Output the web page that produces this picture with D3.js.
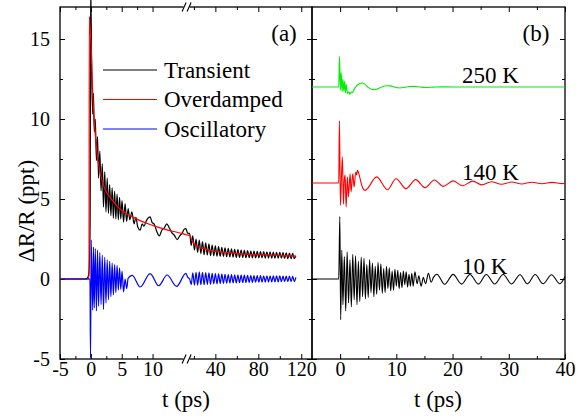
<!DOCTYPE html>
<html><head><meta charset="utf-8">
<script src="https://cdn.jsdelivr.net/npm/d3@7"></script>
<style>
html,body{margin:0;padding:0;background:#fff;}
svg{display:block;}
svg text{font-family:'Liberation Serif','Times New Roman',Times,serif;}
</style></head><body>
<svg id="chart" width="579" height="420"></svg>
<script>
// ---------------- DATA ----------------
// Panel (a): time in ps, signal in ppt
const transientShort = [[-5,0],[-1,0],[-0.6,0.05],[-0.4,0.2],[-0.25,0.8],[-0.12,3.5],[-0.03,18.5],[0.15,12.5],[0.3,10.3],[0.42,11.6],[0.55,9.2],[0.72,10.0],[0.9,7.4],[1.08,8.9],[1.25,6.3],[1.45,8.0],[1.65,5.5],[1.85,7.2],[2.05,4.5],[2.25,6.7],[2.45,4.2],[2.65,6.3],[2.85,4.1],[3.05,5.9],[3.25,3.95],[3.45,5.7],[3.65,3.8],[3.85,5.5],[4.05,3.75],[4.25,5.3],[4.45,3.7],[4.65,5.1],[4.85,3.75],[5.05,4.9],[5.3,3.55],[5.55,4.7],[5.8,3.6],[6.05,4.4],[6.3,3.7],[6.65,4.2],[7.0,3.45],[7.3,3.85],[7.6,3.25],[8.0,3.05],[8.3,3.45],[8.6,3.3],[9.0,3.65],[9.6,3.88],[9.9,3.55],[10.3,3.4],[10.7,2.95],[11.1,2.7],[11.5,3.05],[11.9,3.2],[12.3,3.45],[12.7,3.2],[13.1,2.9],[13.5,2.75],[14.0,2.46],[14.4,2.7],[14.8,2.85],[15.1,3.1],[15.4,3.15],[15.7,2.85]];
const transientLong = [[16,2.85],[17.5,2.1],[19,2.7],[20.5,1.8],[22,2.5],[23.5,1.66],[25,2.43],[26.5,1.59],[28,2.34],[29.5,1.52],[31,2.26],[32.5,1.5],[34,2.19],[35.5,1.46],[37,2.12],[38.5,1.45],[40,2.07],[41.5,1.42],[43,2.02],[44.5,1.41],[46,1.98],[47.5,1.4],[49,1.95],[50.5,1.39],[52,1.92],[53.5,1.38],[55,1.89],[56.5,1.37],[58,1.86],[59.5,1.35],[61,1.83],[62.5,1.35],[64,1.81],[65.5,1.34],[67,1.79],[68.5,1.33],[70,1.77],[71.5,1.33],[73,1.75],[74.5,1.32],[76,1.75],[77.5,1.32],[79,1.73],[80.5,1.32],[82,1.72],[83.5,1.32],[85,1.71],[86.5,1.31],[88,1.7],[89.5,1.31],[91,1.69],[92.5,1.31],[94,1.68],[95.5,1.3],[97,1.67],[98.5,1.3],[100,1.67],[101.5,1.3],[103,1.65],[104.5,1.28],[106,1.63],[107.5,1.27],[109,1.62],[110.5,1.27],[112,1.6],[113.5,1.27],[115,1.45]];
const overdampedShort = [[-5,0],[-0.4,0],[-0.3,0.3],[-0.25,16.4],[-0.1,15.6],[0.07,14.3],[0.3,11.6],[0.62,9.5],[1.0,7.85],[1.53,6.6],[2.34,5.56],[3.43,4.94],[4.5,4.45],[5.5,4.15],[6.67,3.9],[8.0,3.65],[9.37,3.44],[10.7,3.26],[12.07,3.1],[13.4,2.97],[14.77,2.85],[15.6,2.75]];
const overdampedLong = [[16,2.72],[18,2.45],[20,2.21],[23,2.05],[26,1.96],[32,1.84],[38,1.75],[46,1.68],[54,1.63],[62,1.58],[70,1.54],[85,1.51],[100,1.48],[115,1.43]];
const oscillatoryShort = [[-5,0],[-0.15,0],[-0.05,-4.95],[0.05,2.45],[0.3,-1.95],[0.42,2.0],[0.55,-1.8],[0.72,1.9],[0.9,-2.0],[1.08,1.8],[1.25,-1.7],[1.45,1.65],[1.65,-1.6],[1.85,1.5],[2.05,-1.9],[2.25,1.35],[2.45,-1.5],[2.65,1.2],[2.85,-1.3],[3.05,1.1],[3.25,-1.1],[3.45,1.0],[3.65,-1.0],[3.85,0.9],[4.05,-0.85],[4.25,0.85],[4.45,-0.7],[4.65,0.7],[4.85,-0.65],[5.05,0.5],[5.3,-0.8],[5.55,0.0],[5.8,-0.6],[6.05,0.05],[6.7,0.23],[8.0,-0.5],[9.6,0.34],[11.0,-0.42],[12.35,0.25],[13.9,-0.46],[15.4,0.35],[15.7,0.1]];
const oscillatoryLong = [[16,0.0],[17.5,-0.35],[19,0.38],[20.5,-0.38],[22,0.42],[23.5,-0.38],[25,0.44],[26.5,-0.36],[28,0.42],[29.5,-0.36],[31,0.4],[32.5,-0.34],[34,0.38],[35.5,-0.33],[37,0.36],[38.5,-0.3],[40,0.34],[41.5,-0.3],[43,0.32],[44.5,-0.28],[46,0.3],[47.5,-0.27],[49,0.29],[50.5,-0.26],[52,0.28],[53.5,-0.25],[55,0.27],[56.5,-0.24],[58,0.26],[59.5,-0.24],[61,0.25],[62.5,-0.23],[64,0.24],[65.5,-0.22],[67,0.24],[68.5,-0.22],[70,0.23],[71.5,-0.21],[73,0.22],[74.5,-0.21],[76,0.22],[77.5,-0.2],[79,0.21],[80.5,-0.2],[82,0.21],[83.5,-0.19],[85,0.2],[86.5,-0.19],[88,0.2],[89.5,-0.19],[91,0.2],[92.5,-0.18],[94,0.19],[95.5,-0.18],[97,0.19],[98.5,-0.18],[100,0.19],[101.5,-0.17],[103,0.18],[104.5,-0.17],[106,0.18],[107.5,-0.17],[109,0.18],[110.5,-0.17],[112,0.17],[113.5,-0.16],[115,0.1]];

// Panel (b): oscillatory part at three temperatures, relative to each trace's offset
const temps = ["250 K", "140 K", "10 K"];
const offsets = [12, 6, 0];
const osc250K = [[-5,0],[-0.25,0],[-0.1,1.9],[0.05,-0.2],[0.2,0.9],[0.35,-0.3],[0.5,0.5],[0.65,-0.25],[0.8,0.35],[0.95,-0.35],[1.1,0.15],[1.3,-0.4],[1.55,-0.3],[1.75,-0.45],[2.0,-0.3],[2.2,-0.35],[2.5,-0.15],[2.9,0.05],[3.4,0.2],[3.9,0.25],[4.4,0.18],[5.0,-0.02],[5.6,-0.14],[6.2,-0.17],[6.8,-0.1],[7.5,0.02],[8.3,0.08],[9.0,0.07],[9.8,-0.02],[10.6,-0.06],[11.4,-0.03],[12.3,0.03],[13.2,0.04],[14.2,0.0],[15.2,-0.03],[16.5,-0.01],[18,0.01],[20,0],[40,0]];
const osc140K = [[-5,0],[-0.25,0],[-0.12,3.88],[0.06,-1.4],[0.25,0.5],[0.41,1.63],[0.59,-1.33],[0.75,0.2],[0.89,0.5],[1.07,-1.5],[1.3,0.38],[1.48,-0.87],[1.78,0.58],[1.95,-0.56],[2.25,0.58],[2.49,-0.25],[2.78,0.69],[2.95,0.5],[3.08,0.79],[3.43,0.45],[3.9,-0.2],[4.44,-0.46],[6.51,0.38],[8.41,-0.42],[9.95,0.27],[11.72,-0.35],[13.44,0.21],[15.1,-0.29],[16.76,0.19],[18.35,-0.21],[20.1,0.13],[21.8,-0.17],[23.6,0.12],[25.2,-0.12],[26.9,0.08],[28.7,-0.08],[30.5,0.06],[32.3,-0.06],[34.1,0.05],[35.9,-0.05],[37.7,0.04],[39.5,-0.04],[40,0]];
const osc10K = [[-5,0],[-0.25,0],[-0.05,3.9],[0.1,-2.55],[0.3,1.8],[0.5,-1.6],[0.75,1.4],[1.0,-2.0],[1.25,1.7],[1.5,-1.5],[1.75,1.2],[2.0,-1.75],[2.25,1.55],[2.5,-1.3],[2.75,1.45],[3.0,-1.6],[3.25,1.1],[3.5,-1.4],[3.75,1.35],[4.0,-1.1],[4.25,1.3],[4.5,-1.25],[4.75,0.9],[5.0,-1.15],[5.25,1.2],[5.5,-0.85],[5.75,1.0],[6.0,-1.1],[6.25,0.8],[6.5,-0.95],[6.75,1.05],[7.0,-0.7],[7.25,0.95],[7.5,-0.9],[7.75,0.65],[8.0,-0.85],[8.25,0.8],[8.5,-0.6],[8.75,0.7],[9.0,-0.75],[9.25,0.5],[9.5,-0.7],[9.75,0.6],[10.0,-0.45],[10.25,0.55],[10.5,-0.6],[10.75,0.4],[11.0,-0.55],[11.25,0.5],[11.5,-0.35],[11.75,0.45],[12.0,-0.5],[12.25,0.3],[12.5,-0.45],[12.75,0.35],[13.0,-0.45],[13.3,0.45],[13.7,-0.3],[14.0,0.2],[14.4,-0.45],[14.8,0.1],[15.2,-0.3],[15.7,0.35],[16.2,-0.2],[16.6,0.1],[17.2,0.3],[18.6,-0.33],[20.1,0.29],[21.6,-0.32],[23.1,0.28],[24.6,-0.32],[26.0,0.28],[27.5,-0.31],[29.0,0.28],[30.5,-0.31],[32.0,0.27],[33.3,-0.3],[34.7,0.28],[36.1,-0.3],[37.6,0.27],[39.1,-0.3],[40,0.15]];

// Ticks and labels
const yMajor = [-5, 0, 5, 10, 15];
const yMinor = [-2.5, 2.5, 7.5, 12.5];
const xShortMajor = [-5, 0, 5, 10];
const xShortMinor = [-2.5, 2.5, 7.5];
const xLongMajor = [40, 80, 120];
const xLongMinor = [20, 60, 100];
const xBMajor = [0, 10, 20, 30, 40];
const xBMinor = [5, 15, 25, 35];
const legendNames = ["Transient", "Overdamped", "Oscillatory"];
const colorsA = ["#000000", "#ff0000", "#0000ff"];
const colorsB = ["#00ee00", "#ff0000", "#000000"];

// ---------------- DRAWING ----------------
const FONT = "'Liberation Serif','Times New Roman',Times,serif";
const svg = d3.select("#chart").attr("font-family", FONT);

const y = d3.scaleLinear().domain([-5, 17]).range([359, 7]);
const xA1 = d3.scaleLinear().domain([-5, 16]).range([60, 189.6]);
const xA2 = d3.scaleLinear().domain([16, 130]).range([189.6, 312]);
const xa = t => (t <= 16 ? xA1(t) : xA2(t));
const xB = d3.scaleLinear().domain([-5, 40]).range([312, 565]);

const yTop = y.range()[1], yBot = y.range()[0];

// frames
svg.append("rect").attr("x", xA1(-5)).attr("y", yTop).attr("width", xA2(130) - xA1(-5)).attr("height", yBot - yTop)
  .attr("fill", "none").attr("stroke", "#000").attr("stroke-width", 1.3);
svg.append("rect").attr("x", xB(-5)).attr("y", yTop).attr("width", xB(40) - xB(-5)).attr("height", yBot - yTop)
  .attr("fill", "none").attr("stroke", "#000").attr("stroke-width", 1.3);

function styleAxis(g, fs) {
  g.attr("font-family", FONT).attr("font-size", fs);
  g.select(".domain").remove();
  g.selectAll(".tick line").attr("stroke", "#000").attr("stroke-width", 1);
  g.selectAll(".tick text").attr("fill", "#000").style("font-size", fs + "px").style("font-family", FONT);
}
const fmt = d => String(d);
const TL = 20; // tick label size

// Panel (a) y axes
svg.append("g").attr("transform", `translate(${xA1(-5)},0)`)
  .call(d3.axisLeft(y).tickValues(yMajor).tickSize(-5).tickPadding(10).tickFormat(fmt)).call(g => styleAxis(g, TL));
svg.append("g").attr("transform", `translate(${xA1(-5)},0)`)
  .call(d3.axisLeft(y).tickValues(yMinor).tickSize(-3).tickFormat("")).call(g => styleAxis(g, TL));
svg.append("g").attr("transform", `translate(${xA2(130)},0)`)
  .call(d3.axisRight(y).tickValues(yMajor).tickSize(-5).tickFormat("")).call(g => styleAxis(g, TL));
svg.append("g").attr("transform", `translate(${xA2(130)},0)`)
  .call(d3.axisRight(y).tickValues(yMinor).tickSize(-3).tickFormat("")).call(g => styleAxis(g, TL));
// Panel (b) y axes
svg.append("g").attr("transform", `translate(${xB(-5)},0)`)
  .call(d3.axisLeft(y).tickValues(yMajor).tickSize(-5).tickFormat("")).call(g => styleAxis(g, TL));
svg.append("g").attr("transform", `translate(${xB(-5)},0)`)
  .call(d3.axisLeft(y).tickValues(yMinor).tickSize(-3).tickFormat("")).call(g => styleAxis(g, TL));
svg.append("g").attr("transform", `translate(${xB(40)},0)`)
  .call(d3.axisRight(y).tickValues(yMajor).tickSize(-5).tickFormat("")).call(g => styleAxis(g, TL));
svg.append("g").attr("transform", `translate(${xB(40)},0)`)
  .call(d3.axisRight(y).tickValues(yMinor).tickSize(-3).tickFormat("")).call(g => styleAxis(g, TL));

// x axes (bottom with labels, top without)
function xAxes(scale, major, minor) {
  svg.append("g").attr("transform", `translate(0,${yBot})`)
    .call(d3.axisBottom(scale).tickValues(major).tickSize(-5).tickPadding(3).tickFormat(fmt)).call(g => styleAxis(g, TL));
  svg.append("g").attr("transform", `translate(0,${yBot})`)
    .call(d3.axisBottom(scale).tickValues(minor).tickSize(-3).tickFormat("")).call(g => styleAxis(g, TL));
  svg.append("g").attr("transform", `translate(0,${yTop})`)
    .call(d3.axisTop(scale).tickValues(major).tickSize(-5).tickFormat("")).call(g => styleAxis(g, TL));
  svg.append("g").attr("transform", `translate(0,${yTop})`)
    .call(d3.axisTop(scale).tickValues(minor).tickSize(-3).tickFormat("")).call(g => styleAxis(g, TL));
}
xAxes(xA1, xShortMajor, xShortMinor);
xAxes(xA2, xLongMajor, xLongMinor);
xAxes(xB, xBMajor, xBMinor);

// axis break marks
const bx = xA1(16) - 3;
[yTop, yBot].forEach(yy => {
  svg.append("rect").attr("x", bx - 3).attr("y", yy - 2).attr("width", 6).attr("height", 4).attr("fill", "#fff");
  [-2.5, 2.5].forEach(dx => {
    svg.append("line").attr("x1", bx + dx - 2).attr("y1", yy + 4.5).attr("x2", bx + dx + 2).attr("y2", yy - 4.5)
      .attr("stroke", "#000").attr("stroke-width", 1.1);
  });
});

// Panel (a) curves
const lineA = d3.line().x(d => xa(d[0])).y(d => y(d[1])).curve(d3.curveMonotoneX);
const seriesA = [transientShort.concat(transientLong), overdampedShort.concat(overdampedLong), oscillatoryShort.concat(oscillatoryLong)];
seriesA.forEach((s, i) => {
  svg.append("path").datum(s).attr("d", lineA).attr("fill", "none")
    .attr("stroke", colorsA[i]).attr("stroke-width", 1.2).attr("stroke-linejoin", "round");
});

// Legend
legendNames.forEach((n, i) => {
  const ly = 70 + i * 29.5;
  svg.append("line").attr("x1", 103).attr("x2", 157).attr("y1", ly).attr("y2", ly)
    .attr("stroke", colorsA[i]).attr("stroke-width", 1.2);
  svg.append("text").attr("x", 164).attr("y", ly + 7.5).text(n).style("font-size", "23px").attr("fill", "#000");
});

// Panel (b) curves
const seriesB = [osc250K, osc140K, osc10K];
const labelY = [83, 180, 274];
seriesB.forEach((s, i) => {
  const off = offsets[i];
  const lineB = d3.line().x(d => xB(d[0])).y(d => y(d[1] + off)).curve(d3.curveMonotoneX);
  svg.append("path").datum(s).attr("d", lineB).attr("fill", "none")
    .attr("stroke", colorsB[i]).attr("stroke-width", 1.1).attr("stroke-linejoin", "round");
  svg.append("text").attr("x", 462).attr("y", labelY[i]).text(temps[i]).style("font-size", "23px").attr("fill", "#000");
});

// Panel labels
svg.append("text").attr("x", 284).attr("y", 41).attr("text-anchor", "middle").text("(a)").style("font-size", "23px");
svg.append("text").attr("x", 536).attr("y", 41).attr("text-anchor", "middle").text("(b)").style("font-size", "23px");

// Axis titles
svg.append("text").attr("x", 186).attr("y", 407).attr("text-anchor", "middle").text("t (ps)").style("font-size", "23px");
svg.append("text").attr("x", 438).attr("y", 407).attr("text-anchor", "middle").text("t (ps)").style("font-size", "23px");
svg.append("text").attr("transform", "translate(34,211) rotate(-90)").attr("text-anchor", "middle")
  .text("ΔR/R (ppt)").style("font-size", "23px");
</script></body></html>
